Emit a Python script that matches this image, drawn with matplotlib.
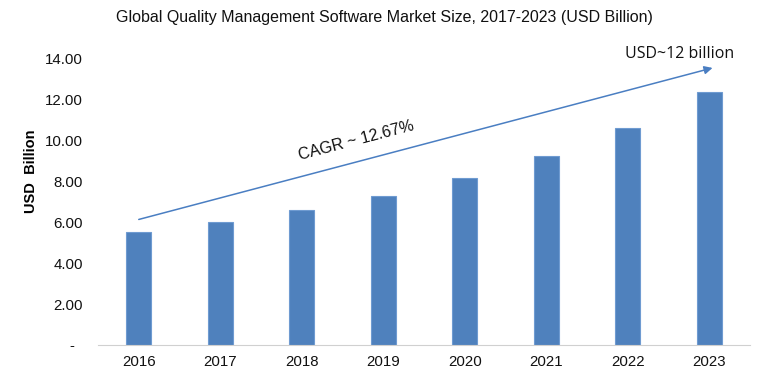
import matplotlib
matplotlib.use("Agg")
import matplotlib.pyplot as plt

years = ["2016", "2017", "2018", "2019", "2020", "2021", "2022", "2023"]
market_size = [5.53, 6.02, 6.59, 7.28, 8.16, 9.22, 10.59, 12.33]
yticks = [0, 2, 4, 6, 8, 10, 12, 14]
ytick_labels = ["-  ", "2.00", "4.00", "6.00", "8.00", "10.00", "12.00", "14.00"]

plt.rcParams['font.family'] = ['Liberation Sans', 'DejaVu Sans']

fig = plt.figure(figsize=(7.68, 3.73), dpi=100)
ax = fig.add_axes([0.1276, 0.0751, 0.849, 0.7686])

x = range(len(years))
ax.bar(x, market_size, width=0.31, color="#4F81BD", edgecolor="#6F9BD1", linewidth=0.8)

ax.set_xlim(-0.5, len(years) - 0.5)
ax.set_ylim(0, 14)
ax.set_yticks(yticks)
ax.set_yticklabels(ytick_labels)
ax.set_xticks(list(x))
ax.set_xticklabels(years)
ax.tick_params(axis="both", length=0, labelsize=10.8, colors="#111111")
ax.tick_params(axis="y", pad=11)
ax.tick_params(axis="x", pad=7)
for s in ["left", "right", "top"]:
    ax.spines[s].set_visible(False)
ax.spines["bottom"].set_color("#D0D0D0")

ax.set_ylabel("USD  Billion", fontsize=10.5, fontweight="bold")
ax.yaxis.set_label_coords(-0.092, 0.606)
fig.text(0.5, 0.952, "Global Quality Management Software Market Size, 2017-2023 (USD Billion)",
         ha="center", va="center", fontsize=11.5, color="#111111")

# growth arrow
ax.annotate("", xy=(7.04, 13.53), xytext=(0.0, 6.13),
            arrowprops=dict(arrowstyle="-|>", color="#4A7EC2", lw=1.1,
                            mutation_scale=12, shrinkA=0, shrinkB=0),
            annotation_clip=False)
ax.text(2.67, 10.0, "CAGR ~ 12.67%", rotation=14.7, ha="center", va="center",
        fontsize=11.5, color="#111111", rotation_mode="anchor")
ax.text(6.63, 14.23, "USD~12 billion", ha="center", va="center",
        fontsize=11.5, color="#111111", family=["Open Sans", "DejaVu Sans"], clip_on=False)

fig.savefig("out.png", dpi=100)
